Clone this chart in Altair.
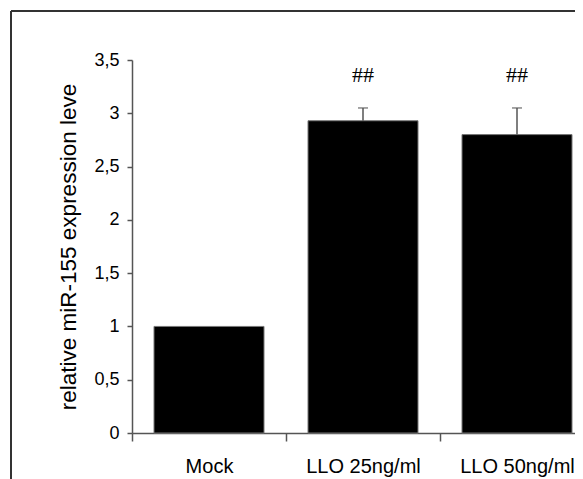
import altair as alt
import pandas as pd

categories = ["Mock", "LLO 25ng/ml", "LLO 50ng/ml"]
values = [1.0, 2.93, 2.80]
errors = [0.0, 0.12, 0.25]
marks = ["", "##", "##"]
y_ticks = [0, 0.5, 1, 1.5, 2, 2.5, 3, 3.5]

df = pd.DataFrame({
    "cat": categories,
    "val": values,
    "err_top": [v + e for v, e in zip(values, errors)],
    "mark": marks,
})

xscale = alt.Scale(paddingInner=0, paddingOuter=0, range=[0, 462])
xenc = alt.X("cat:N", sort=categories, scale=xscale,
             axis=alt.Axis(title=None, tickBand="extent", labelAngle=0,
                           labelFont="Liberation Sans", labelFontSize=20,
                           labelColor="#000", labelPadding=15,
                           tickSize=8, tickColor="#555", domainColor="#555",
                           domainWidth=1.5, tickWidth=1.5))

yscale = alt.Scale(domain=[0, 3.5], nice=False, zero=True)

bars = alt.Chart(df).mark_bar(color="black", stroke="#777", strokeWidth=1, size=110).encode(
    x=xenc,
    y=alt.Y("val:Q", scale=yscale,
            axis=alt.Axis(values=y_ticks, title="relative miR-155 expression leve",
                          labelExpr="replace(format(datum.value, '~g'), '.', ',')",
                          labelFont="Liberation Sans", labelFontSize=18,
                          labelColor="#000", labelPadding=8,
                          titleFont="Liberation Sans", titleFontSize=22.5,
                          titleFontWeight="normal", titleColor="#000",
                          titlePadding=13, grid=False,
                          tickSize=5, tickColor="#555", domainColor="#555",
                          domainWidth=1.5, tickWidth=1.5)),
)

err_df = df[df["err_top"] > df["val"]]
rules = alt.Chart(err_df).mark_rule(color="#555", strokeWidth=1.5).encode(
    x=alt.X("cat:N", sort=categories), y="val:Q", y2="err_top:Q")
caps = alt.Chart(err_df).mark_tick(color="#555", thickness=1.5, size=10).encode(
    x=alt.X("cat:N", sort=categories), y="err_top:Q")

texts = alt.Chart(df).mark_text(font="Liberation Serif", fontSize=22, color="black",
                                baseline="middle").encode(
    x=alt.X("cat:N", sort=categories), y=alt.value(15), text="mark:N")

frame_v = alt.Chart(df).mark_rule(color="#333", strokeWidth=2).encode(
    x=alt.value(-121), y=alt.value(-49), y2=alt.value(440))
frame_h = alt.Chart(df).mark_rule(color="#333", strokeWidth=2).encode(
    x=alt.value(-121), x2=alt.value(460), y=alt.value(-49))

chart = alt.layer(bars, rules, caps, texts, frame_v, frame_h).properties(
    width=443, height=373,
    padding={"left": 124, "top": 52, "right": 0, "bottom": 46},
    autosize=alt.AutoSizeParams(type="none"),
).configure_view(stroke=None)

chart.save("out.html", embed_options={"renderer": "svg", "actions": False})
